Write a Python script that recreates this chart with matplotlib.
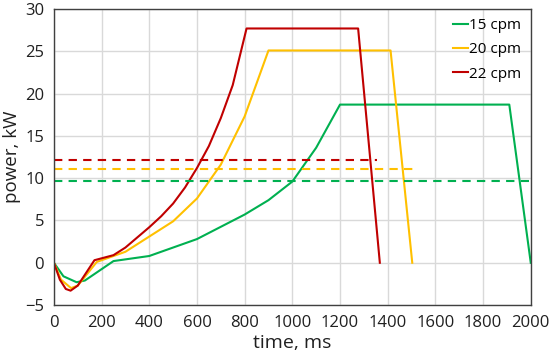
import matplotlib.pyplot as plt

plt.rcParams['font.family'] = ['Open Sans', 'DejaVu Sans']

# 15 cpm
t_15 = [0, 40, 95, 130, 250, 400, 600, 800, 900, 1000, 1100, 1200, 1910, 2000]
p_15 = [0, -1.6, -2.3, -2.1, 0.2, 0.8, 2.8, 5.7, 7.4, 9.6, 13.6, 18.7, 18.7, 0]
# 20 cpm
t_20 = [0, 30, 72, 100, 180, 300, 400, 500, 600, 700, 800, 900, 1412, 1503]
p_20 = [0, -2.0, -3.0, -2.7, 0.1, 1.3, 3.1, 4.9, 7.6, 11.6, 17.3, 25.1, 25.1, 0]
# 22 cpm
t_22 = [0, 25, 50, 70, 100, 170, 250, 300, 350, 400, 450, 500, 550, 600,
        650, 700, 750, 808, 1276, 1367]
p_22 = [0, -2.0, -3.1, -3.3, -2.7, 0.3, 0.9, 1.8, 3.0, 4.2, 5.5, 7.0, 8.9, 11.2,
        13.8, 17.1, 21.0, 27.7, 27.7, 0]

# average power levels (dashed)
avg_15 = 9.7
avg_20 = 11.1
avg_22 = 12.2
avg_end_15 = 2000
avg_end_20 = 1507
avg_end_22 = 1355

GREEN = '#00B050'
YELLOW = '#FFC000'
RED = '#C00000'

fig = plt.figure(figsize=(5.5, 3.61), dpi=100)
ax = fig.add_axes([0.098, 0.155, 0.867, 0.82])

ax.plot(t_15, p_15, color=GREEN, lw=1.5, label='15 cpm')
ax.plot(t_20, p_20, color=YELLOW, lw=1.5, label='20 cpm')
ax.plot(t_22, p_22, color=RED, lw=1.5, label='22 cpm')

ax.plot([0, avg_end_15], [avg_15, avg_15], color=GREEN, lw=1.5, ls=(0, (4, 3)))
ax.plot([0, avg_end_20], [avg_20, avg_20], color=YELLOW, lw=1.5, ls=(0, (4, 3)))
ax.plot([0, avg_end_22], [avg_22, avg_22], color=RED, lw=1.5, ls=(0, (4, 3)))

ax.set_xlim(0, 2000)
ax.set_ylim(-5, 30)
ax.set_xticks(range(0, 2001, 200))
ax.set_yticks(range(-5, 31, 5))
ax.grid(True, color='#d9d9d9', lw=1)
ax.set_axisbelow(True)
for s in ax.spines.values():
    s.set_color('#404040')
    s.set_linewidth(1)
ax.tick_params(length=0, labelsize=12, colors='#202020', pad=7)

ax.set_xlabel('time, ms', fontsize=14, color='#202020', labelpad=2)
ax.set_ylabel('power, kW', fontsize=13.5, color='#202020')
ax.yaxis.set_label_coords(-0.068, 0.5)

ax.legend(loc='upper right', frameon=False, fontsize=11, handlelength=1.0,
          handletextpad=0.1, labelspacing=0.6, borderaxespad=0.3,
          borderpad=0.3)

fig.savefig('out.png', dpi=100)
